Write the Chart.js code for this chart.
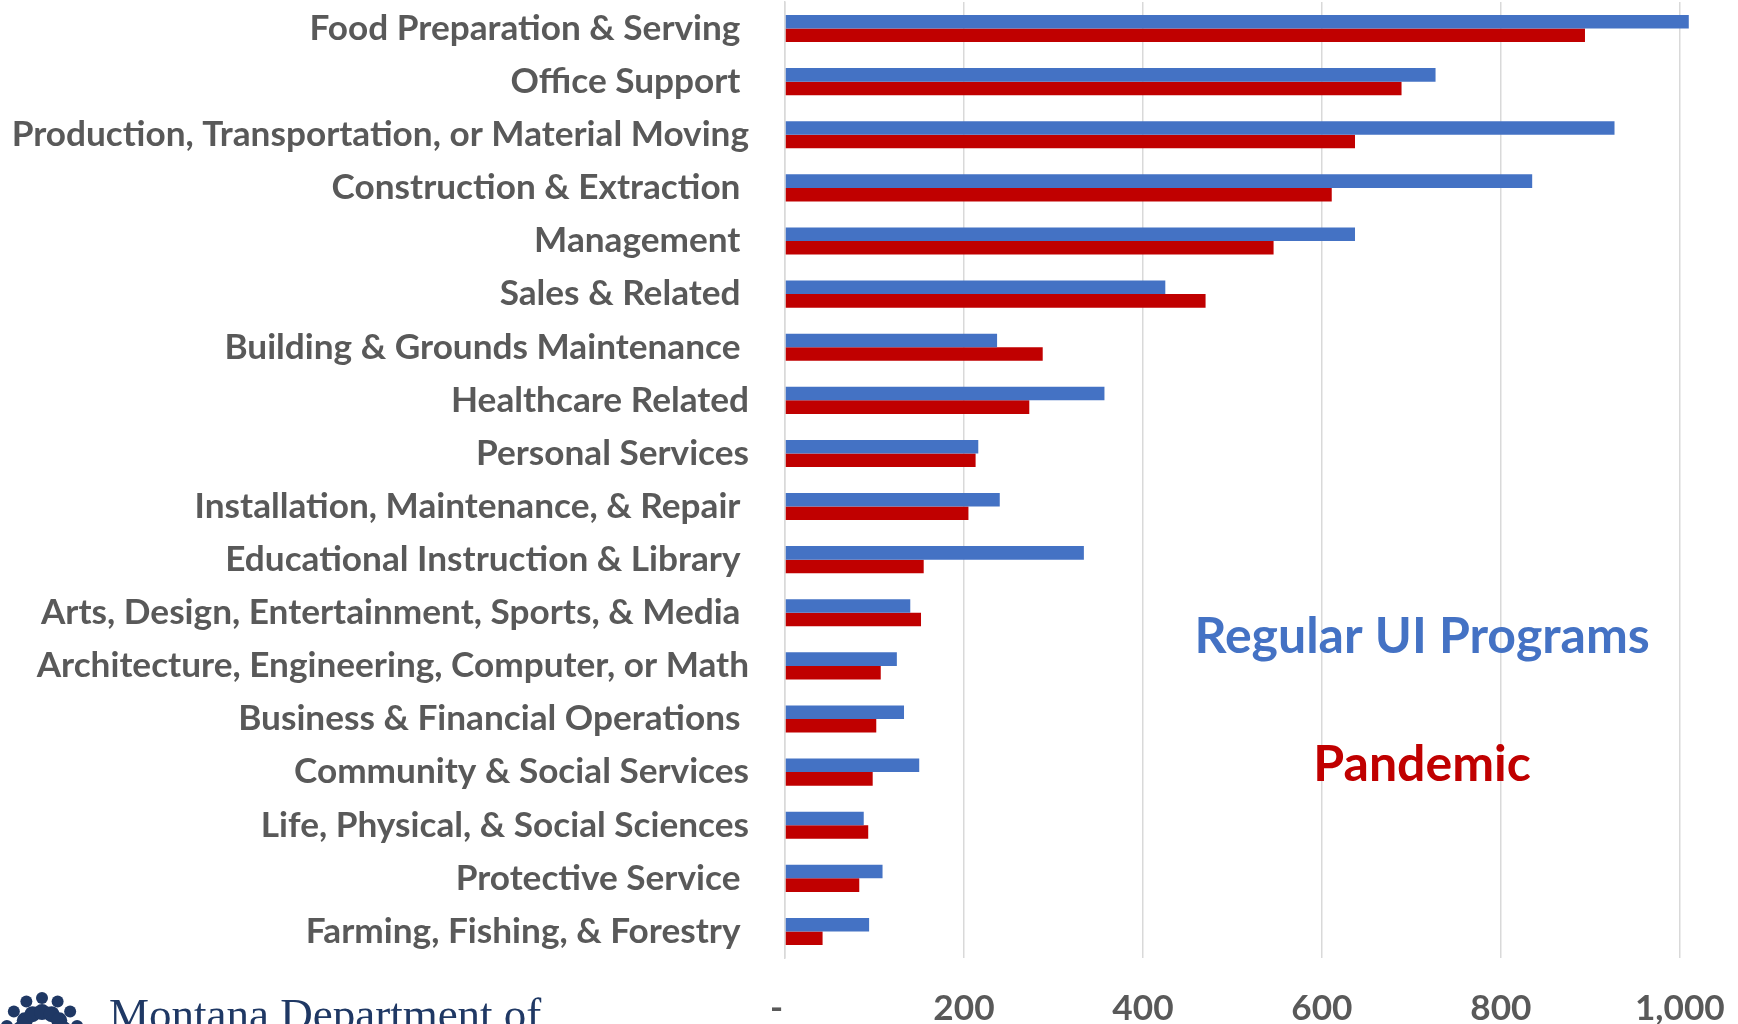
<!DOCTYPE html>
<html>
<head>
<meta charset="utf-8">
<script src="https://cdn.jsdelivr.net/npm/chart.js@4.4.1/dist/chart.umd.min.js"></script>
<style>
  html, body { margin: 0; padding: 0; background: #ffffff; overflow: hidden; }
  #wrap { position: relative; width: 1738px; height: 1024px; }
  canvas { display: block; }
</style>
</head>
<body>
<div id="wrap"><canvas id="c" width="1738" height="1024"></canvas></div>
<script>
// ---- data ----
const categories = [
  "Food Preparation & Serving ",
  "Office Support ",
  "Production, Transportation, or Material Moving",
  "Construction & Extraction ",
  "Management ",
  "Sales & Related ",
  "Building & Grounds Maintenance ",
  "Healthcare Related",
  "Personal Services",
  "Installation, Maintenance, & Repair ",
  "Educational Instruction & Library ",
  "Arts, Design, Entertainment, Sports, & Media ",
  "Architecture, Engineering, Computer, or Math",
  "Business & Financial Operations ",
  "Community & Social Services",
  "Life, Physical, & Social Sciences",
  "Protective Service ",
  "Farming, Fishing, & Forestry "
];
const regularUI = [1010, 727, 927, 835, 637, 425, 237, 357, 216, 240, 334, 140, 125, 133, 150, 88, 109, 94];
const pandemic  = [894, 689, 637, 611, 546, 470, 288, 273, 213, 205, 155, 152, 107, 102, 98, 93, 83, 42];
const seriesNames = ["Regular UI Programs", "Pandemic"];
const xTickValues = [0, 200, 400, 600, 800, 1000];
const logoText = "Montana Department of";

// ---- font selection ----
const measureCtx = document.createElement('canvas').getContext('2d');
function hasFont(name) {
  const sample = 'Production, Transportation, or Material Moving';
  for (const fb of ['monospace', 'serif']) {
    measureCtx.font = 'bold 40px ' + fb;
    const w1 = measureCtx.measureText(sample).width;
    measureCtx.font = 'bold 40px "' + name + '", ' + fb;
    const w2 = measureCtx.measureText(sample).width;
    if (Math.abs(w1 - w2) > 0.5) return true;
  }
  return false;
}
let family = hasFont('Liberation Sans Narrow') ? '"Liberation Sans Narrow"' : (hasFont('Lato') ? 'Lato' : '"Open Sans"');
// fit label size to reference width of the longest label
measureCtx.font = 'bold 100px ' + family;
const wRef = measureCtx.measureText(categories[2]).width;
const labelSize = Math.round(100 * 738 / wRef * 10) / 10;

const BLUE = '#4472C4';
const RED = '#C00000';
const GRAY = '#595959';

const overlayPlugin = {
  id: 'overlay',
  afterDraw(chart) {
    const ctx = chart.ctx;
    const xs = chart.scales.x;
    ctx.save();
    // in-chart series labels
    ctx.textAlign = 'center';
    ctx.textBaseline = 'middle';
    ctx.font = 'bold ' + (labelSize * 1.42).toFixed(1) + 'px ' + family;
    ctx.fillStyle = BLUE;
    ctx.fillText(seriesNames[0], xs.getPixelForValue(712), 637);
    ctx.fillStyle = RED;
    ctx.fillText(seriesNames[1], xs.getPixelForValue(712), 765);
    // logo
    ctx.fillStyle = '#1F3864';
    ctx.textAlign = 'left';
    ctx.textBaseline = 'alphabetic';
    ctx.font = '45px "Liberation Serif", "DejaVu Serif", serif';
    ctx.fillText(logoText, 109, 1029);
    // logo icon: ring of figures
    const cx = 42, cy = 1034, R = 36;
    for (let i = 0; i < 7; i++) {
      const a = Math.PI + (i + 0.5) * Math.PI / 7;
      const hx = cx + R * Math.cos(a), hy = cy + R * Math.sin(a);
      ctx.beginPath(); ctx.arc(hx, hy, 6, 0, Math.PI * 2); ctx.fill();
      const bx = cx + (R - 14) * Math.cos(a), by = cy + (R - 14) * Math.sin(a);
      ctx.beginPath(); ctx.arc(bx, by, 8, 0, Math.PI * 2); ctx.fill();
    }
    ctx.fillStyle = '#ffffff';
    ctx.beginPath(); ctx.arc(cx, cy, 12, 0, Math.PI * 2); ctx.fill();
    ctx.restore();
  }
};

new Chart(document.getElementById('c'), {
  type: 'bar',
  data: {
    labels: categories,
    datasets: [
      { label: seriesNames[0], data: regularUI, backgroundColor: BLUE, borderWidth: 0 },
      { label: seriesNames[1], data: pandemic, backgroundColor: RED, borderWidth: 0 }
    ]
  },
  options: {
    indexAxis: 'y',
    responsive: false,
    animation: false,
    devicePixelRatio: 1,
    categoryPercentage: 0.51,
    barPercentage: 1.0,
    layout: { padding: { top: 2, right: 0, left: 0, bottom: 0 } },
    plugins: { legend: { display: false }, tooltip: { enabled: false } },
    scales: {
      x: {
        min: 0,
        max: 1065,
        afterBuildTicks(scale) {
          scale.ticks = xTickValues.map(v => ({ value: v }));
        },
        afterFit(scale) {
          scale.height = 66;
          scale.paddingLeft = 0; scale.paddingRight = 0;
        },
        grid: { color: '#D9D9D9', lineWidth: 1.5, drawTicks: false },
        border: { display: false },
        ticks: {
          padding: 30,
          color: GRAY,
          font: { family: family, size: labelSize, weight: 'bold' },
          maxRotation: 0,
          callback: v => v === 0 ? '-  ' : v.toLocaleString('en-US')
        }
      },
      y: {
        afterFit(scale) {
          scale.width = 785;
          scale.paddingTop = 0; scale.paddingBottom = 0;
        },
        grid: { display: false, drawTicks: false },
        border: { display: true, color: '#D9D9D9', width: 1.5 },
        ticks: {
          padding: 36,
          color: GRAY,
          autoSkip: false,
          font: { family: family, size: labelSize, weight: 'bold' }
        }
      }
    }
  },
  plugins: [overlayPlugin]
});
</script>
</body>
</html>
